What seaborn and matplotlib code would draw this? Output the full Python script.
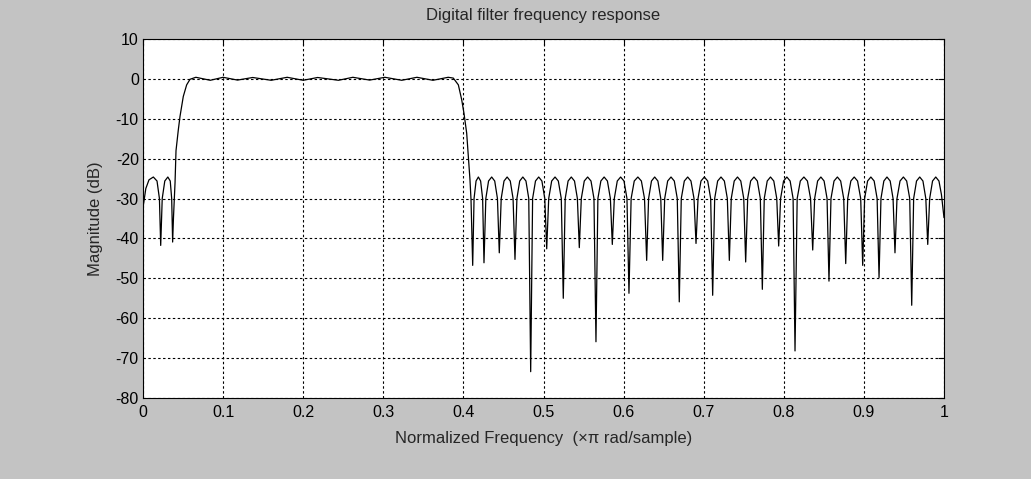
import matplotlib
matplotlib.use("Agg")
import matplotlib.pyplot as plt
import seaborn as sns
import pandas as pd

# ---- data (normalized frequency, magnitude in dB) ----
lower_freq = [0.0, 0.0035, 0.0075, 0.0129, 0.0175, 0.0205, 0.0221,
              0.0240, 0.0272, 0.0310, 0.0340, 0.0358, 0.0370]
lower_db = [-32.3, -27.5, -25.3, -24.6, -25.6, -30.0, -41.75,
            -30.0, -25.6, -24.6, -25.6, -30.0, -40.9]

rise_freq = [0.0380, 0.0400, 0.0412, 0.0441, 0.0462, 0.0503, 0.0545, 0.0587]
rise_db = [-35.0, -26.0, -18.0, -12.75, -9.4, -4.4, -1.5, -0.1]

pass_freq = [0.066, 0.084, 0.100, 0.118, 0.137, 0.160, 0.180, 0.200, 0.218,
             0.244, 0.262, 0.283, 0.302, 0.323, 0.342, 0.362, 0.381]
pass_db = [0.4, -0.35, 0.4, -0.3, 0.35, -0.35, 0.4, -0.35, 0.35,
           -0.35, 0.4, -0.3, 0.4, -0.35, 0.4, -0.35, 0.4]

fall_freq = [0.3874, 0.3937, 0.3979, 0.4007, 0.4041, 0.4062, 0.4082, 0.4095]
fall_db = [0.2, -1.5, -5.25, -8.6, -13.6, -19.4, -25.25, -30.25]

upper_freq = [
    0.4116,
    0.4133, 0.4158, 0.4187, 0.4215, 0.4240, 0.4257,
    0.4280, 0.4314, 0.4353, 0.4391, 0.4425, 0.4448,
    0.4472, 0.4507, 0.4546, 0.4585, 0.4620, 0.4644,
    0.4668, 0.4703, 0.4742, 0.4781, 0.4816, 0.4840,
    0.4864, 0.4900, 0.4940, 0.4980, 0.5016, 0.5040,
    0.5065, 0.5102, 0.5144, 0.5185, 0.5222, 0.5247,
    0.5271, 0.5307, 0.5347, 0.5387, 0.5423, 0.5447,
    0.5472, 0.5509, 0.5551, 0.5593, 0.5630, 0.5655,
    0.5679, 0.5716, 0.5757, 0.5798, 0.5835, 0.5859,
    0.5884, 0.5921, 0.5963, 0.6005, 0.6042, 0.6067,
    0.6094, 0.6133, 0.6178, 0.6222, 0.6261, 0.6288,
    0.6312, 0.6348, 0.6388, 0.6428, 0.6464, 0.6488,
    0.6513, 0.6550, 0.6592, 0.6633, 0.6670, 0.6695,
    0.6720, 0.6758, 0.6800, 0.6841, 0.6879, 0.6904,
    0.6929, 0.6966, 0.7008, 0.7050, 0.7087, 0.7112,
    0.7137, 0.7174, 0.7216, 0.7258, 0.7295, 0.7320,
    0.7344, 0.7381, 0.7422, 0.7463, 0.7500, 0.7524,
    0.7549, 0.7586, 0.7628, 0.7670, 0.7707, 0.7732,
    0.7756, 0.7793, 0.7834, 0.7875, 0.7912, 0.7936,
    0.7960, 0.7997, 0.8038, 0.8079, 0.8116, 0.8140,
    0.8167, 0.8206, 0.8251, 0.8295, 0.8334, 0.8361,
    0.8385, 0.8422, 0.8463, 0.8503, 0.8540, 0.8564,
    0.8589, 0.8627, 0.8669, 0.8710, 0.8748, 0.8773,
    0.8798, 0.8837, 0.8879, 0.8921, 0.8960, 0.8985,
    0.9009, 0.9046, 0.9087, 0.9128, 0.9165, 0.9189,
    0.9213, 0.9249, 0.9288, 0.9328, 0.9364, 0.9388,
    0.9413, 0.9451, 0.9493, 0.9534, 0.9572, 0.9597,
    0.9621, 0.9657, 0.9697, 0.9737, 0.9773, 0.9797,
    0.9821, 0.9857, 0.9897, 0.9937, 0.9968, 1.0,
]
upper_db = [
    -46.75,
    -30.0, -25.6, -24.6, -25.6, -30.0, -46.1,
    -30.0, -25.6, -24.6, -25.6, -30.0, -43.6,
    -30.0, -25.6, -24.6, -25.6, -30.0, -45.25,
    -30.0, -25.6, -24.6, -25.6, -30.0, -73.4,
    -30.0, -25.6, -24.6, -25.6, -30.0, -42.6,
    -30.0, -25.6, -24.6, -25.6, -30.0, -55.0,
    -30.0, -25.6, -24.6, -25.6, -30.0, -42.3,
    -30.0, -25.6, -24.6, -25.6, -30.0, -65.9,
    -30.0, -25.6, -24.6, -25.6, -30.0, -41.5,
    -30.0, -25.6, -24.6, -25.6, -30.0, -53.75,
    -30.0, -25.6, -24.6, -25.6, -30.0, -45.5,
    -30.0, -25.6, -24.6, -25.6, -30.0, -45.5,
    -30.0, -25.6, -24.6, -25.6, -30.0, -55.9,
    -30.0, -25.6, -24.6, -25.6, -30.0, -41.25,
    -30.0, -25.6, -24.6, -25.6, -30.0, -54.25,
    -30.0, -25.6, -24.6, -25.6, -30.0, -45.5,
    -30.0, -25.6, -24.6, -25.6, -30.0, -45.9,
    -30.0, -25.6, -24.6, -25.6, -30.0, -52.75,
    -30.0, -25.6, -24.6, -25.6, -30.0, -41.9,
    -30.0, -25.6, -24.6, -25.6, -30.0, -68.2,
    -30.0, -25.6, -24.6, -25.6, -30.0, -42.9,
    -30.0, -25.6, -24.6, -25.6, -30.0, -50.7,
    -30.0, -25.6, -24.6, -25.6, -30.0, -46.3,
    -30.0, -25.6, -24.6, -25.6, -30.0, -46.75,
    -30.0, -25.6, -24.6, -25.6, -30.0, -49.8,
    -30.0, -25.6, -24.6, -25.6, -30.0, -43.6,
    -30.0, -25.6, -24.6, -25.6, -30.0, -56.75,
    -30.0, -25.6, -24.6, -25.6, -30.0, -41.5,
    -30.0, -25.6, -24.6, -25.6, -29.0, -34.8,
]

x_ticks = [0, 0.1, 0.2, 0.3, 0.4, 0.5, 0.6, 0.7, 0.8, 0.9, 1]
x_tick_labels = ["0", "0.1", "0.2", "0.3", "0.4", "0.5", "0.6", "0.7", "0.8", "0.9", "1"]
y_ticks = [-80, -70, -60, -50, -40, -30, -20, -10, 0, 10]
y_tick_labels = ["-80", "-70", "-60", "-50", "-40", "-30", "-20", "-10", "0", "10"]

title = "Digital filter frequency response"
xlabel = "Normalized Frequency  (\u00d7\u03c0 rad/sample)"
ylabel = "Magnitude (dB)"

# ---- build table ----
freq = lower_freq + rise_freq + pass_freq + fall_freq + upper_freq
mag = lower_db + rise_db + pass_db + fall_db + upper_db
df = pd.DataFrame({"freq": freq, "mag": mag})

sns.set_style("white")
plt.rcParams["font.family"] = ["Liberation Sans Narrow", "Liberation Sans", "DejaVu Sans"]
plt.rcParams["axes.unicode_minus"] = False

bg = "#c3c3c3"
fig = plt.figure(figsize=(10.31, 4.79), dpi=100, facecolor=bg)
ax = fig.add_axes([143 / 1031, 1 - 398 / 479, (944 - 143) / 1031, (398 - 39) / 479])
ax.set_facecolor("white")

sns.lineplot(data=df, x="freq", y="mag", ax=ax, color="black", linewidth=0.9,
             estimator=None, sort=False)

ax.set_xlim(0, 1)
ax.set_ylim(-80, 10)
ax.set_xticks(x_ticks)
ax.set_xticklabels(x_tick_labels)
ax.set_yticks(y_ticks)
ax.set_yticklabels(y_tick_labels)
ax.grid(True, color="black", linestyle=(0, (2.2, 2.2)), linewidth=0.8)
ax.set_axisbelow(True)
ax.tick_params(direction="in", length=4, width=0.8, colors="black",
               top=True, right=True, labelsize=11.5)
ax.tick_params(axis="x", pad=5)
ax.tick_params(axis="y", pad=3)
for s in ax.spines.values():
    s.set_color("black")
    s.set_linewidth(0.8)

ax.set_title(title, fontsize=12, pad=14)
ax.set_xlabel(xlabel, fontsize=12, labelpad=8)
ax.set_ylabel(ylabel, fontsize=12, labelpad=9)

fig.savefig("out.png", dpi=100, facecolor=bg)
